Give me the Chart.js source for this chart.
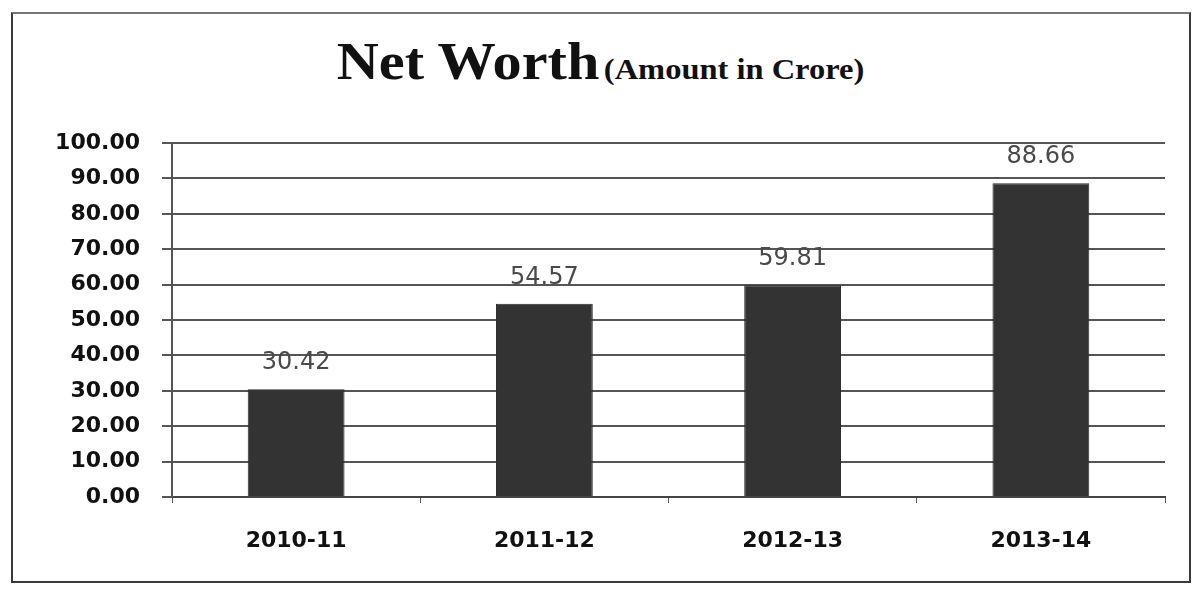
<!DOCTYPE html>
<html>
<head>
<meta charset="utf-8">
<script src="https://cdn.jsdelivr.net/npm/chart.js@4"></script>
<style>
  html, body { margin: 0; padding: 0; background: #fff; }
  #wrap { position: relative; width: 1201px; height: 590px; overflow: hidden; background: #fff; }
  #frame { position: absolute; left: 11px; top: 12px; width: 1180px; height: 571px;
           border: 2px solid #3a3a3a; border-top-color: #777; box-sizing: border-box; }
  #title { position: absolute; left: 0; top: 32px; width: 1201px; text-align: center;
           font-family: "Liberation Serif", "DejaVu Serif", serif; color: #111; white-space: nowrap; }
  #title .inner { display: inline-block; transform: scaleX(1.12); transform-origin: center; }
  #title .main { font-size: 52px; font-weight: bold; }
  #title .sub { font-size: 29px; font-weight: bold; }
  canvas { position: absolute; left: 0; top: 0; }
</style>
</head>
<body>
<div id="wrap">
  <div id="frame"></div>
  <div id="title"><span class="inner"><span class="main">Net Worth</span> <span class="sub">(Amount in Crore)</span></span></div>
  <canvas id="c" width="1201" height="590"></canvas>
</div>
<script>
const categories = ["2010-11", "2011-12", "2012-13", "2013-14"];
const netWorth = [30.42, 54.57, 59.81, 88.66];
const yTicks = [0, 10, 20, 30, 40, 50, 60, 70, 80, 90, 100];

const valueLabels = {
  id: 'valueLabels',
  afterDatasetsDraw(chart) {
    const ctx = chart.ctx;
    const meta = chart.getDatasetMeta(0);
    ctx.save();
    ctx.font = '24px "DejaVu Sans", sans-serif';
    ctx.fillStyle = '#4a4a4a';
    ctx.textAlign = 'center';
    ctx.textBaseline = 'alphabetic';
    meta.data.forEach((bar, i) => {
      ctx.fillText(netWorth[i].toFixed(2), bar.x, bar.y - 20);
    });
    ctx.restore();
  }
};

new Chart(document.getElementById('c'), {
  type: 'bar',
  data: {
    labels: categories,
    datasets: [{
      data: netWorth,
      backgroundColor: '#333333',
      borderColor: '#2a2a2a',
      borderWidth: 1,
      categoryPercentage: 1.0,
      barPercentage: 0.39
    }]
  },
  options: {
    responsive: false,
    animation: false,
    layout: { padding: { top: 143, right: 36, left: 0, bottom: 0 } },
    plugins: { legend: { display: false }, title: { display: false }, tooltip: { enabled: false } },
    scales: {
      x: {
        offset: true,
        afterFit(scale) { scale.height = 93; },
        grid: { display: true, drawOnChartArea: false, drawTicks: true, tickLength: 6, color: '#555', offset: true },
        border: { display: true, color: '#444', width: 2 },
        ticks: { color: '#111', padding: 25, font: { family: '"DejaVu Sans", sans-serif', size: 22, weight: 'bold' } }
      },
      y: {
        min: 0, max: 100,
        afterFit(scale) { scale.width = 172; },
        afterBuildTicks(scale) { scale.ticks = yTicks.map(v => ({ value: v })); },
        grid: { color: '#555', lineWidth: 2, tickLength: 10, drawTicks: true },
        border: { display: true, color: '#555', width: 2 },
        ticks: {
          color: '#111', padding: 22,
          font: { family: '"DejaVu Sans", sans-serif', size: 22, weight: 'bold' },
          callback: v => Number(v).toFixed(2)
        }
      }
    }
  },
  plugins: [valueLabels]
});
</script>
</body>
</html>
